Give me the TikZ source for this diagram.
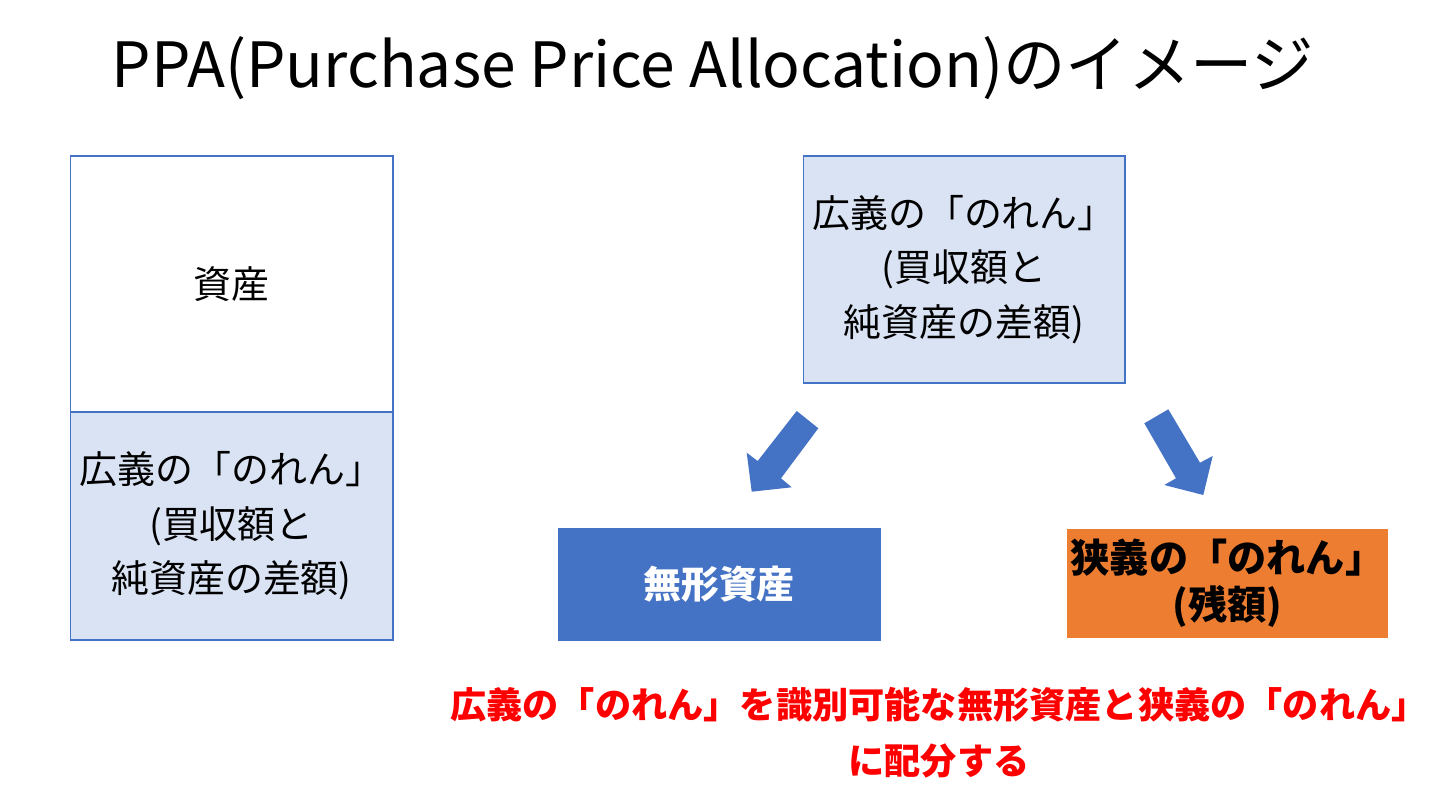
\documentclass[tikz,border=0pt]{standalone}
\usepackage{fontspec}
\setmainfont{Noto Sans CJK JP}
\usetikzlibrary{positioning}
\definecolor{mblue}{HTML}{4472C4}
\definecolor{lblue}{HTML}{DAE3F3}
\definecolor{morange}{HTML}{ED7D31}
\definecolor{mred}{HTML}{FF0000}
\tikzset{
  box/.style={draw=mblue, line width=0.6pt, inner sep=0pt, align=center,
    font=\fontsize{21.6}{31}\selectfont},
  block/.style={fill=mblue, draw=none}
}

\begin{document}
\begin{tikzpicture}[x=0.02cm, y=-0.02cm]
    \useasboundingbox (0, 0) rectangle (1440, 810);

    \node (title) at (713, 68) {\fontsize{35.5}{42}\selectfont PPA(Purchase Price Allocation)のイメージ};

    \node [box, fill=white, minimum width=6.46cm, minimum height=5.12cm] (asset) at (231.5, 284) {資産};
    \node [box, fill=lblue, minimum width=6.46cm, minimum height=4.56cm] (goodwill) at (231.5, 526)
      {広義の「のれん」\\(買収額と\\純資産の差額)};

    \node [box, fill=lblue, minimum width=6.44cm, minimum height=4.54cm] (wide) at (964, 269.5)
      {広義の「のれん」\\(買収額と\\純資産の差額)};

    \node [box, fill=mblue, text=white, minimum width=6.44cm, minimum height=2.22cm, font=\fontsize{21.6}{29}\selectfont\bfseries] (intan) at (719, 584.5) {無形資産};
    \node [box, draw=none, fill=morange, minimum width=6.42cm, minimum height=2.18cm, font=\fontsize{22.3}{27}\selectfont\bfseries] (narrow) at (1227.5, 583.5)
      {狭義の「のれん」\\(残額)};

    \fill [block] (796.7, 411) -- (818.3, 428.3) -- (781, 478.3) -- (791.7, 487.3) -- (751.7, 491.7) -- (746.7, 452.7) -- (757.7, 461) -- cycle;
    \fill [block] (1144.3, 423.3) -- (1168.3, 409.3) -- (1200, 462.7) -- (1212.7, 456) -- (1203.3, 495) -- (1164.3, 485) -- (1176, 478.3) -- cycle;

    \node [text=mred, align=center, font=\fontsize{20.6}{32}\selectfont\bfseries] (note) at (939, 733)
      {広義の「のれん」を識別可能な無形資産と狭義の「のれん」\\に配分する};
\end{tikzpicture}
\end{document}
